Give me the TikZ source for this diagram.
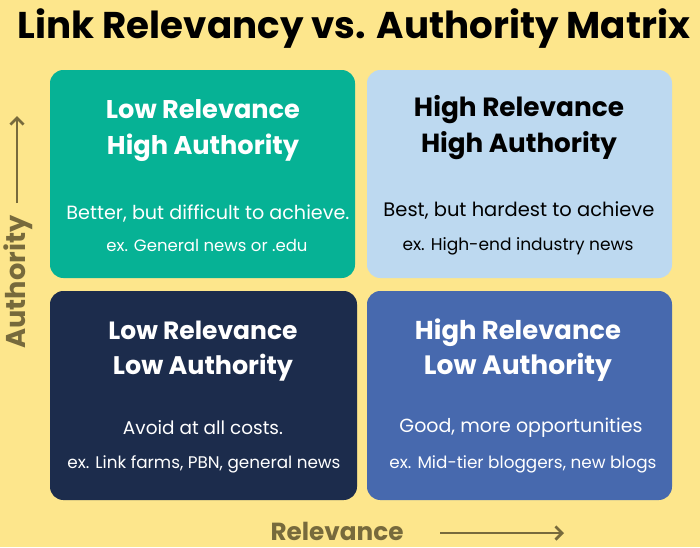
\documentclass[tikz,border=0pt]{standalone}
\usepackage{fontspec}
\usepackage{graphicx}
\setmainfont{Poppins}
\usetikzlibrary{arrows.meta}
\definecolor{bgc}{HTML}{FDE68C}
\definecolor{greenq}{HTML}{06B295}
\definecolor{lblue}{HTML}{BDD9F0}
\definecolor{navy}{HTML}{1C2C4C}
\definecolor{blueq}{HTML}{4769AE}
\definecolor{olive}{HTML}{776A3C}
\newcommand{\fitw}[2]{\resizebox{#1}{!}{#2}}
\tikzset{
  qbox/.style={rounded corners=10pt},
  head/.style={font=\bfseries, inner sep=0pt, anchor=base},
  bodytxt/.style={inner sep=0pt, anchor=base},
  axlab/.style={font=\bfseries, text=olive, inner sep=0pt},
  axarrow/.style={draw=olive, line width=2pt, -{Straight Barb[length=5pt,width=10pt]}}
}
\begin{document}
\begin{tikzpicture}[x=0.75pt,y=-0.75pt]
\fill[bgc] (0,0) rectangle (700,547);
\useasboundingbox (0,0) rectangle (700,547);
% title
\node[head] (title) at (354,38) {\fitw{672\dimexpr0.75pt\relax}{Link Relevancy vs. Authority Matrix}};
% quadrants
\path[fill=greenq, qbox] (50,70) rectangle (355,278);
\node[inner sep=0pt] (tl) at (202,174) {};
\path[fill=lblue, qbox] (367,70) rectangle (672,278);
\node[inner sep=0pt] (tr) at (519,174) {};
\path[fill=navy, qbox] (50,291) rectangle (357,500);
\node[inner sep=0pt] (bl) at (203,395) {};
\path[fill=blueq, qbox] (367,291) rectangle (672,500);
\node[inner sep=0pt] (br) at (519,395) {};
% TL text
\node[head, text=white] (tlh1) at (203,118) {\fitw{194\dimexpr0.75pt\relax}{Low Relevance}};
\node[head, text=white] (tlh2) at (203,154) {\fitw{192\dimexpr0.75pt\relax}{High Authority}};
\node[bodytxt, text=white] (tlb1) at (208,219) {\fitw{283\dimexpr0.75pt\relax}{Better, but difficult to achieve.}};
\node[bodytxt, text=white] (tlb2) at (207,251) {\fitw{201\dimexpr0.75pt\relax}{ex. General news or .edu}};
% TR text
\node[head, text=black] (trh1) at (519,116) {\fitw{210\dimexpr0.75pt\relax}{High Relevance}};
\node[head, text=black] (trh2) at (519,152) {\fitw{196\dimexpr0.75pt\relax}{High Authority}};
\node[bodytxt, text=black] (trb1) at (519,216) {\fitw{271\dimexpr0.75pt\relax}{Best, but hardest to achieve}};
\node[bodytxt, text=black] (trb2) at (518,250) {\fitw{231\dimexpr0.75pt\relax}{ex. High-end industry news}};
% BL text
\node[head, text=white] (blh1) at (203,339) {\fitw{189\dimexpr0.75pt\relax}{Low Relevance}};
\node[head, text=white] (blh2) at (203,374) {\fitw{180\dimexpr0.75pt\relax}{Low Authority}};
\node[bodytxt, text=white] (blb1) at (203,434) {\fitw{160\dimexpr0.75pt\relax}{Avoid at all costs.}};
\node[bodytxt, text=white] (blb2) at (204,468) {\fitw{273\dimexpr0.75pt\relax}{ex. Link farms, PBN, general news}};
% BR text
\node[head, text=white] (brh1) at (518,339) {\fitw{206\dimexpr0.75pt\relax}{High Relevance}};
\node[head, text=white] (brh2) at (518,374) {\fitw{188\dimexpr0.75pt\relax}{Low Authority}};
\node[bodytxt, text=white] (brb1) at (521,432) {\fitw{243\dimexpr0.75pt\relax}{Good, more opportunities}};
\node[bodytxt, text=white] (brb2) at (523,468) {\fitw{267\dimexpr0.75pt\relax}{ex. Mid-tier bloggers, new blogs}};
% axes
\node[axlab, rotate=90] (auth) at (18,282) {\fitw{133\dimexpr0.75pt\relax}{Authority}};
\coordinate (a0) at (17,203);
\coordinate (a1) at (17,116);
\draw[axarrow] (a0) -- (a1);
\node[axlab] (rel) at (337,531) {\fitw{133\dimexpr0.75pt\relax}{Relevance}};
\coordinate (r0) at (440,533);
\coordinate (r1) at (564,533);
\draw[axarrow] (r0) -- (r1);
\end{tikzpicture}
\end{document}
